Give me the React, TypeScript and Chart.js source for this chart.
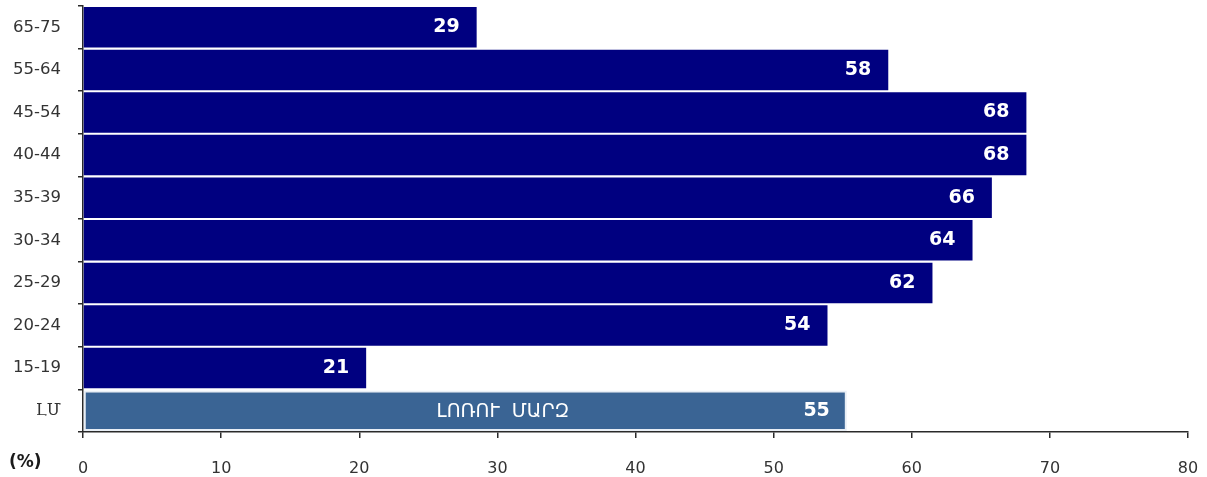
import { useEffect, useRef } from "react";
import { Chart, registerables } from "chart.js";

Chart.register(...registerables);

const categories = ["65-75", "55-64", "45-54", "40-44", "35-39", "30-34", "25-29", "20-24", "15-19", "ԼՄ"];
const values = [28.5, 58.3, 68.3, 68.3, 65.8, 64.4, 61.5, 53.9, 20.5, 55.3];
const barLabels = ["29", "58", "68", "68", "66", "64", "62", "54", "21", "55"];
const regionName = "ԼՈՌՈՒ  ՄԱՐԶ";
const unitLabel = "(%)";
const xMin = 0;
const xMax = 80;
const xStep = 10;

const NAVY = "#000080";
const STEEL = "#3a6494";
const AXIS = "#2a2a2a";

export default function App() {
  const ref = useRef<HTMLCanvasElement | null>(null);

  useEffect(() => {
    if (!ref.current) return;
    const last = categories.length - 1;

    const labelPlugin = {
      id: "barLabels",
      afterDatasetsDraw(chart: any) {
        const ctx = chart.ctx;
        const meta = chart.getDatasetMeta(0);
        const xs = chart.scales.x;
        ctx.save();
        meta.data.forEach((el: any, i: number) => {
          ctx.fillStyle = "#ffffff";
          ctx.textBaseline = "middle";
          ctx.textAlign = "right";
          ctx.font = "bold 19px 'DejaVu Sans'";
          ctx.fillText(barLabels[i], el.x - 17, el.y);
          if (i === last) {
            ctx.textAlign = "center";
            ctx.font = "19px 'DejaVu Sans'";
            ctx.fillText(regionName, xs.getPixelForValue(30.4), el.y + 1);
          }
        });
        ctx.fillStyle = "#1a1a1a";
        ctx.textAlign = "left";
        ctx.textBaseline = "middle";
        ctx.font = "bold 17px 'DejaVu Sans'";
        ctx.fillText(unitLabel, 9, chart.chartArea.bottom + 31);
        ctx.restore();
      },
    };

    const chart = new Chart(ref.current, {
      type: "bar",
      data: {
        labels: categories,
        datasets: [
          {
            data: values,
            backgroundColor: (c: any) => (c.dataIndex === last ? STEEL : NAVY),
            borderColor: (c: any) => (c.dataIndex === last ? "#e8eef5" : NAVY),
            borderWidth: (c: any) => (c.dataIndex === last ? 2 : 0),
            borderSkipped: false,
            barPercentage: 0.95,
            categoryPercentage: 1,
          },
        ],
      },
      options: {
        indexAxis: "y",
        animation: false,
        responsive: false,
        maintainAspectRatio: false,
        layout: { padding: { top: 6, right: 19, left: 0, bottom: 0 } },
        plugins: {
          legend: { display: false },
          tooltip: { enabled: false },
        },
        scales: {
          x: {
            min: xMin,
            max: xMax,
            afterFit: (s: any) => {
              s.height = 45;
              s.paddingLeft = 0;
              s.paddingRight = 0;
            },
            ticks: {
              stepSize: xStep,
              color: "#333",
              padding: 21,
              font: { family: "'DejaVu Sans'", size: 16 },
            },
            grid: {
              display: true,
              drawOnChartArea: false,
              drawTicks: true,
              tickLength: 6,
              color: AXIS,
              lineWidth: 1.5,
            },
            border: { display: true, color: AXIS, width: 1.5 },
          },
          y: {
            afterFit: (s: any) => {
              s.width = 83;
              s.paddingTop = 0;
              s.paddingBottom = 0;
            },
            ticks: {
              color: "#333",
              padding: 17,
              font: (c: any) =>
                c.index === last
                  ? { family: "'DejaVu Serif'", size: 16 }
                  : { family: "'DejaVu Sans'", size: 16.5 },
            },
            grid: {
              display: true,
              offset: true,
              drawOnChartArea: false,
              drawTicks: true,
              tickLength: 5,
              color: AXIS,
              lineWidth: 1.5,
            },
            border: { display: true, color: AXIS, width: 1.5 },
          },
        },
      },
      plugins: [labelPlugin],
    } as any);

    return () => chart.destroy();
  }, []);

  return (
    <div style={{ position: "fixed", left: 0, top: 0, width: 1207, height: 477, background: "#fff" }}>
      <canvas ref={ref} width={1207} height={477} style={{ display: "block", width: 1207, height: 477 }} />
    </div>
  );
}
